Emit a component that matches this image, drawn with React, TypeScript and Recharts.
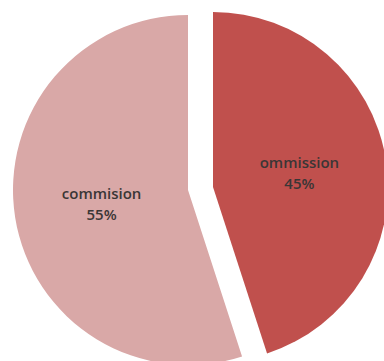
import React from "react";
import { PieChart, Pie, Cell } from "recharts";

const names = ["ommission", "commision"];
const values = [45, 55];
const colors = ["#C0504D", "#D9A8A7"];

const data = names.map((name, i) => ({ name, value: values[i] }));

const RAD = Math.PI / 180;

// label only the slice this pie actually paints
function makeLabel(show: string) {
  return (props: any) => {
    const { cx, cy, midAngle, outerRadius, name, percent } = props;
    if (name !== show) return null;
    const r = outerRadius * 0.5;
    const x = cx + r * Math.cos(-midAngle * RAD);
    const y = cy + r * Math.sin(-midAngle * RAD);
    return (
      <text
        x={x}
        y={y}
        textAnchor="middle"
        fill="#3a3636"
        fontSize={15}
        fontWeight={600}
        fontFamily="'Open Sans', sans-serif"
      >
        <tspan x={x} dy={-5}>{name}</tspan>
        <tspan x={x} dy={21}>{`${Math.round(percent * 100)}%`}</tspan>
      </text>
    );
  };
}

export default function App() {
  return (
    <div style={{ position: "absolute", left: 0, top: 0, width: 384, height: 361, background: "#fff" }}>
      <PieChart width={384} height={361} margin={{ top: 0, right: 0, bottom: 0, left: 0 }}>
        <Pie
          data={data}
          dataKey="value"
          nameKey="name"
          cx={188}
          cy={190}
          outerRadius={175}
          startAngle={90}
          endAngle={-270}
          stroke="none"
          labelLine={false}
          label={makeLabel("commision")}
          isAnimationActive={false}
        >
          {data.map((d, i) => (
            <Cell key={d.name} fill={d.name === "commision" ? colors[i] : "transparent"} />
          ))}
        </Pie>
        <Pie
          data={data}
          dataKey="value"
          nameKey="name"
          cx={213}
          cy={187}
          outerRadius={175}
          startAngle={90}
          endAngle={-270}
          stroke="none"
          labelLine={false}
          label={makeLabel("ommission")}
          isAnimationActive={false}
        >
          {data.map((d, i) => (
            <Cell key={d.name} fill={d.name === "ommission" ? colors[i] : "transparent"} />
          ))}
        </Pie>
      </PieChart>
    </div>
  );
}
